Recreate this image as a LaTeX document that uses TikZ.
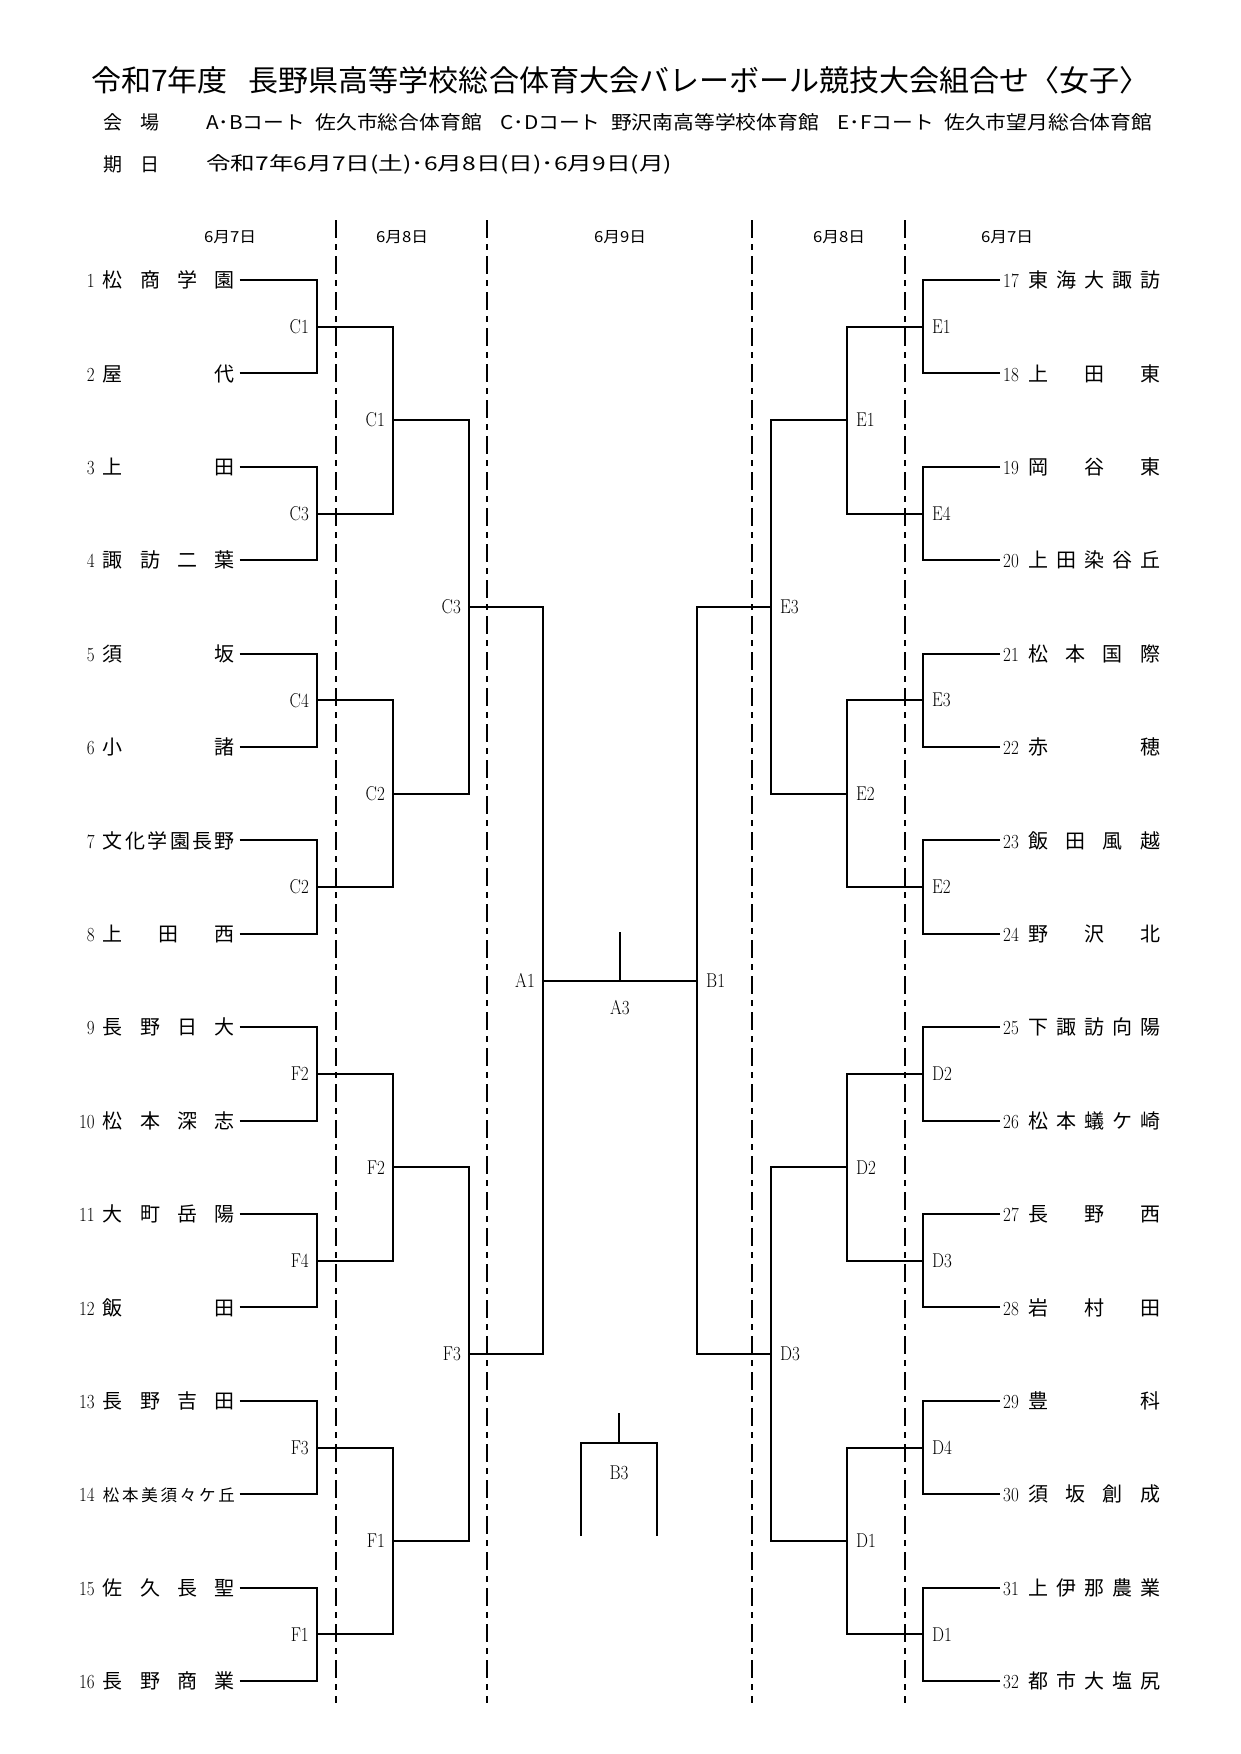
\documentclass[tikz,border=0pt]{standalone}
\usepackage{fontspec}
\usepackage{graphicx}
\newfontfamily\cjk{Noto Sans CJK JP}
\makeatletter
\newcommand\spreadchars[1]{\def\sc@sep{}\@tfor\sc@c:=#1\do{\sc@sep\sc@c\def\sc@sep{\hfill}}}
\makeatother
\newcommand\latn[1]{\scalebox{0.85}[1]{\fontsize{20}{20}\selectfont #1}}
\newcommand\nm[1]{\makebox[132pt][s]{\cjk\fontsize{20}{20}\selectfont\spreadchars{#1}}}
\newcommand\nms[1]{\makebox[132pt][s]{\cjk\fontsize{16.5}{17}\selectfont\spreadchars{#1}}}
\newcommand\tnL[1]{\makebox[20pt][r]{\latn{#1}}\hspace{8pt}}
\newcommand\tnR[1]{\makebox[25pt][l]{\latn{#1}}}
\tikzset{
  bracket/.style={line width=2pt, line join=miter},
  divider/.style={line width=2pt, dash pattern=on 18pt off 6pt on 6pt off 6pt},
  teamL/.style={anchor=east, inner sep=0pt, text height=17.6pt, text depth=2.4pt},
  teamR/.style={anchor=west, inner sep=0pt, text height=17.6pt, text depth=2.4pt},
  labL/.style={anchor=east, inner sep=0pt, xshift=-8pt},
  labR/.style={anchor=west, inner sep=0pt, xshift=9pt},
  labC/.style={inner sep=0pt},
  datehead/.style={inner sep=0pt},
  headtext/.style={anchor=west, inner sep=0pt}
}
\begin{document}
\begin{tikzpicture}[x=1pt,y=-1pt]
\path[fill=white] (0,0) rectangle (1240,1754);
\useasboundingbox (0,0) rectangle (1240,1754);

% heading
\node[headtext] (title) at (91,80) {\resizebox{1058pt}{25pt}{\cjk 令和7年度\hspace{0.7em}長野県高等学校総合体育大会バレーボール競技大会組合せ〈女子〉}};
\node[headtext] (venuek) at (103,122) {\makebox[56pt][s]{\cjk\fontsize{19}{19}\selectfont 会\hfill 場}};
\node[headtext] (venue) at (206,122) {\resizebox{946pt}{16pt}{\cjk A･Bコート\hspace{0.5em}佐久市総合体育館\hspace{0.9em}C･Dコート\hspace{0.5em}野沢南高等学校体育館\hspace{0.9em}E･Fコート\hspace{0.5em}佐久市望月総合体育館}};
\node[headtext] (datek) at (103,164) {\makebox[56pt][s]{\cjk\fontsize{19}{19}\selectfont 期\hfill 日}};
\node[headtext] (dates) at (206,164) {\resizebox{466pt}{16pt}{\cjk 令和7年6月7日(土)･6月8日(日)･6月9日(月)}};

% day headers
\node[datehead] (h1) at (230,237) {\resizebox{52pt}{12pt}{\cjk 6月7日}};
\node[datehead] (h2) at (402,237) {\resizebox{52pt}{12pt}{\cjk 6月8日}};
\node[datehead] (h3) at (620,237) {\resizebox{52pt}{12pt}{\cjk 6月9日}};
\node[datehead] (h4) at (839,237) {\resizebox{52pt}{12pt}{\cjk 6月8日}};
\node[datehead] (h5) at (1007,237) {\resizebox{52pt}{12pt}{\cjk 6月7日}};

% dividers
\coordinate (v1t) at (336,220); \coordinate (v1b) at (336,1703);
\coordinate (v2t) at (487,220); \coordinate (v2b) at (487,1703);
\coordinate (v3t) at (752,220); \coordinate (v3b) at (752,1703);
\coordinate (v4t) at (905,220); \coordinate (v4b) at (905,1703);
\foreach \v in {1,2,3,4} \draw[divider] (v\v t) -- (v\v b);

% left teams
\node[teamL] (t1) at (235,280) {\tnL{1}\nm{松商学園}};
\node[teamL] (t2) at (235,373.4) {\tnL{2}\nm{屋代}};
\node[teamL] (t3) at (235,466.8) {\tnL{3}\nm{上田}};
\node[teamL] (t4) at (235,560.2) {\tnL{4}\nm{諏訪二葉}};
\node[teamL] (t5) at (235,653.6) {\tnL{5}\nm{須坂}};
\node[teamL] (t6) at (235,747) {\tnL{6}\nm{小諸}};
\node[teamL] (t7) at (235,840.4) {\tnL{7}\nm{文化学園長野}};
\node[teamL] (t8) at (235,933.8) {\tnL{8}\nm{上田西}};
\node[teamL] (t9) at (235,1027.2) {\tnL{9}\nm{長野日大}};
\node[teamL] (t10) at (235,1120.6) {\tnL{10}\nm{松本深志}};
\node[teamL] (t11) at (235,1214) {\tnL{11}\nm{大町岳陽}};
\node[teamL] (t12) at (235,1307.4) {\tnL{12}\nm{飯田}};
\node[teamL] (t13) at (235,1400.8) {\tnL{13}\nm{長野吉田}};
\node[teamL] (t14) at (235,1494.2) {\tnL{14}\nms{松本美須々ケ丘}};
\node[teamL] (t15) at (235,1587.6) {\tnL{15}\nm{佐久長聖}};
\node[teamL] (t16) at (235,1681) {\tnL{16}\nm{長野商業}};

% right teams
\node[teamR] (t17) at (1003,280) {\tnR{17}\nm{東海大諏訪}};
\node[teamR] (t18) at (1003,373.4) {\tnR{18}\nm{上田東}};
\node[teamR] (t19) at (1003,466.8) {\tnR{19}\nm{岡谷東}};
\node[teamR] (t20) at (1003,560.2) {\tnR{20}\nm{上田染谷丘}};
\node[teamR] (t21) at (1003,653.6) {\tnR{21}\nm{松本国際}};
\node[teamR] (t22) at (1003,747) {\tnR{22}\nm{赤穂}};
\node[teamR] (t23) at (1003,840.4) {\tnR{23}\nm{飯田風越}};
\node[teamR] (t24) at (1003,933.8) {\tnR{24}\nm{野沢北}};
\node[teamR] (t25) at (1003,1027.2) {\tnR{25}\nm{下諏訪向陽}};
\node[teamR] (t26) at (1003,1120.6) {\tnR{26}\nm{松本蟻ケ崎}};
\node[teamR] (t27) at (1003,1214) {\tnR{27}\nm{長野西}};
\node[teamR] (t28) at (1003,1307.4) {\tnR{28}\nm{岩村田}};
\node[teamR] (t29) at (1003,1400.8) {\tnR{29}\nm{豊科}};
\node[teamR] (t30) at (1003,1494.2) {\tnR{30}\nm{須坂創成}};
\node[teamR] (t31) at (1003,1587.6) {\tnR{31}\nm{上伊那農業}};
\node[teamR] (t32) at (1003,1681) {\tnR{32}\nm{都市大塩尻}};

% left junctions
\coordinate (lm1) at (317,326.7);  \coordinate (lm2) at (317,513.5);
\coordinate (lm3) at (317,700.3);  \coordinate (lm4) at (317,887.1);
\coordinate (lm5) at (317,1073.9); \coordinate (lm6) at (317,1260.7);
\coordinate (lm7) at (317,1447.5); \coordinate (lm8) at (317,1634.3);
\coordinate (ln1) at (393,420.1);  \coordinate (ln2) at (393,793.7);
\coordinate (ln3) at (393,1167.3); \coordinate (ln4) at (393,1540.9);
\coordinate (lo1) at (469,606.9);  \coordinate (lo2) at (469,1354.1);
\coordinate (lf) at (543,980.5);
% right junctions
\coordinate (rm1) at (923,326.7);  \coordinate (rm2) at (923,513.5);
\coordinate (rm3) at (923,700.3);  \coordinate (rm4) at (923,887.1);
\coordinate (rm5) at (923,1073.9); \coordinate (rm6) at (923,1260.7);
\coordinate (rm7) at (923,1447.5); \coordinate (rm8) at (923,1634.3);
\coordinate (rn1) at (847,420.1);  \coordinate (rn2) at (847,793.7);
\coordinate (rn3) at (847,1167.3); \coordinate (rn4) at (847,1540.9);
\coordinate (ro1) at (771,606.9);  \coordinate (ro2) at (771,1354.1);
\coordinate (rf) at (697,980.5);

% connectors left
\foreach \t/\m in {1/1,2/1,3/2,4/2,5/3,6/3,7/4,8/4,9/5,10/5,11/6,12/6,13/7,14/7,15/8,16/8}
  \draw[bracket] ([xshift=4.5pt]t\t.east) -| (lm\m);
\foreach \a/\b in {1/1,2/1,3/2,4/2,5/3,6/3,7/4,8/4}
  \draw[bracket] (lm\a) -| (ln\b);
\foreach \a/\b in {1/1,2/1,3/2,4/2}
  \draw[bracket] (ln\a) -| (lo\b);
\foreach \a in {1,2}
  \draw[bracket] (lo\a) -| (lf);
% connectors right
\foreach \t/\m in {17/1,18/1,19/2,20/2,21/3,22/3,23/4,24/4,25/5,26/5,27/6,28/6,29/7,30/7,31/8,32/8}
  \draw[bracket] ([xshift=-3pt]t\t.west) -| (rm\m);
\foreach \a/\b in {1/1,2/1,3/2,4/2,5/3,6/3,7/4,8/4}
  \draw[bracket] (rm\a) -| (rn\b);
\foreach \a/\b in {1/1,2/1,3/2,4/2}
  \draw[bracket] (rn\a) -| (ro\b);
\foreach \a in {1,2}
  \draw[bracket] (ro\a) -| (rf);
% final
\draw[bracket] (lf) -- (rf);
\coordinate (ctop) at (620,932);
\coordinate (cmid) at (620,980.5);
\draw[bracket] (ctop) -- (cmid);
\node[labC] (a3) at (620,1008) {\latn{A3}};

% B3 box
\coordinate (b3top) at (619,1413);
\coordinate (b3mid) at (619,1443);
\coordinate (b3tl) at (581,1443);
\coordinate (b3tr) at (657,1443);
\coordinate (b3bl) at (581,1536);
\coordinate (b3br) at (657,1536);
\draw[bracket] (b3top) -- (b3mid);
\draw[bracket] (b3bl) -- (b3tl) -- (b3tr) -- (b3br);
\node[labC] (b3) at (619,1473) {\latn{B3}};

% labels left
\foreach \c/\l in {1/C1,2/C3,3/C4,4/C2,5/F2,6/F4,7/F3,8/F1}
  \node[labL] (llm\c) at (lm\c) {\latn{\l}};
\foreach \c/\l in {1/C1,2/C2,3/F2,4/F1}
  \node[labL] (lln\c) at (ln\c) {\latn{\l}};
\foreach \c/\l in {1/C3,2/F3}
  \node[labL] (llo\c) at (lo\c) {\latn{\l}};
\node[labL] (llf) at (lf) {\latn{A1}};
% labels right
\foreach \c/\l in {1/E1,2/E4,3/E3,4/E2,5/D2,6/D3,7/D4,8/D1}
  \node[labR] (lrm\c) at (rm\c) {\latn{\l}};
\foreach \c/\l in {1/E1,2/E2,3/D2,4/D1}
  \node[labR] (lrn\c) at (rn\c) {\latn{\l}};
\foreach \c/\l in {1/E3,2/D3}
  \node[labR] (lro\c) at (ro\c) {\latn{\l}};
\node[labR] (lrf) at (rf) {\latn{B1}};
\end{tikzpicture}
\end{document}
